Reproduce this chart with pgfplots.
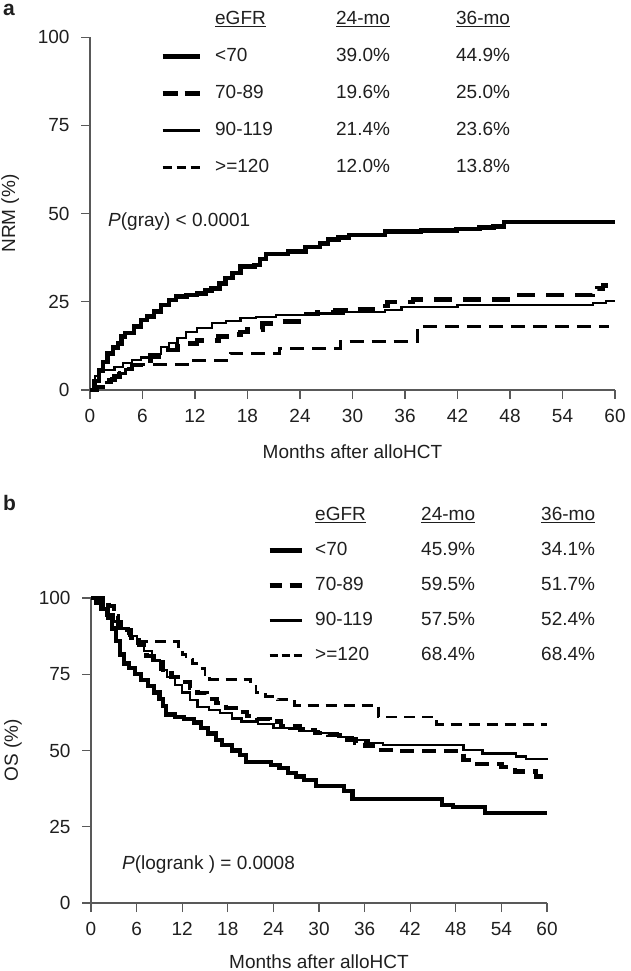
\documentclass[border=0pt]{standalone}
\usepackage{fontspec}
\setmainfont{Liberation Sans}
\usepackage{pgfplots}
\pgfplotsset{compat=1.18}

\definecolor{axisgray}{gray}{0.35}
\definecolor{ink}{gray}{0.12}

\newcommand{\lbl}{\fontsize{19}{22}\selectfont}

\pgfplotsset{
  kmaxis/.style={
    scale only axis,
    anchor=south west,
    xmin=0, xmax=60, ymin=0, ymax=100,
    xtick={0,6,...,60}, ytick={0,25,50,75,100},
    axis x line*=bottom, axis y line*=left,
    axis line style={axisgray, line width=1.3pt},
    tick style={axisgray, line width=1.3pt},
    tick align=outside,
    major tick length=9pt,
    /pgf/number format/assume math mode=true,
    tick label style={font=\lbl, text=ink},
    xticklabel style={yshift=-7pt},
    yticklabel style={xshift=-8pt},
    label style={font=\lbl, text=ink},
    ylabel style={anchor=center},
    xlabel style={anchor=center},
    clip=false,
    legend cell align=left,
  },
  keyimage/.style={legend image code/.code={\draw[##1] (0pt,0pt) -- (#1,0pt);}},
}

\begin{document}
\begin{tikzpicture}[font=\lbl, text=ink]
\useasboundingbox (0pt,0pt) rectangle (631pt,971pt);

% ---------------- panel a: non-relapse mortality ----------------
\begin{axis}[kmaxis,
  at={(90pt,581pt)}, width=525pt, height=352.7pt,
  ylabel={NRM (\%)}, xlabel={Months after alloHCT},
  ylabel style={at={(axis description cs:-0.152,0.5)}},
  xlabel style={at={(axis description cs:0.5,-0.176)}},
  keyimage=37pt,
  legend style={at={(axis description cs:0.1333,1.0774)}, anchor=north west,
    draw=none, fill=none, inner sep=0pt, column sep=13pt, row sep=18.5pt,
    font=\lbl, text=ink,
    nodes={inner sep=0pt, text height=14pt, text depth=4.5pt}},
]
% <70
\addplot[black, line width=4.5pt, const plot, forget plot] table {
0 0
0.5 2.5
1.0 5.5
1.5 8
2.0 10.4
2.6 12
3.2 13.2
3.6 15.2
4.0 16.1
5.0 18
5.8 19.8
6.5 20.8
7.3 22.3
8.1 24.1
9.0 25.5
9.8 26.5
11.0 27
12.2 27.4
13.2 28.2
13.9 28.8
14.8 30.2
15.5 31.7
16.3 33.2
17.2 35
18.8 35.4
19.4 37.2
20.1 38.6
22.6 39.2
24.6 40.6
26.3 41.6
27.2 42.6
28.4 43.3
29.6 44
33.7 44.9
37.8 45.2
41.9 45.6
44.5 46
46.1 46.3
47.3 47.7
60 47.7
};
% 70-89
\addplot[black, line width=4.5pt, dash pattern=on 18pt off 11pt, const plot, forget plot] table {
0 0
0.8 0.8
1.5 1.8
2.2 2.8
2.8 3.8
3.4 4.8
4.0 6
4.8 7.1
5.8 8.3
6.9 9.5
7.9 10.4
8.9 11.3
10.0 12.4
11.0 13.2
12.2 14
14.7 15.1
16.4 15.8
17.2 16.5
18.0 17.2
19.7 18.9
21.5 19.4
24.4 21.5
26.0 22
28.0 22.5
30.5 22.8
32.3 23.8
34.0 25
36.9 25.7
48.6 26.9
57.4 27.8
58.0 28.8
58.6 29.6
59.2 29.6
};
% 90-119
\addplot[black, line width=2.2pt, const plot, forget plot] table {
0 0
0.3 2
0.6 4
1.0 5.7
2.8 6.6
3.8 7.6
4.8 8.5
5.8 9.2
6.8 10.2
8.1 12.3
9.0 13.4
10.0 14.8
11.0 16.5
12.2 17.6
13.9 18.9
15.5 19.6
17.2 20.3
19.0 20.8
21.3 21.3
25.5 21.7
29.0 22.2
33.7 22.7
35.6 23.6
42.0 24.1
55.6 24.1
57.5 24.6
59.0 25.3
60 25.3
};
% >=120
\addplot[black, line width=3pt, dash pattern=on 14pt off 8pt, const plot, forget plot] table {
0 0
0.8 1
1.6 2
2.4 3.2
3.2 4.6
4.0 5.8
4.8 7.1
11.6 8.5
16.0 10.4
21.7 11.8
28.6 13.7
37.4 17.9
59.3 17.9
};

\addlegendimage{empty legend}
\addlegendentry{\makebox[121pt][l]{\underline{eGFR}}\makebox[120pt][l]{\underline{24-mo}}\underline{36-mo}}
\addlegendimage{black, line width=5pt}
\addlegendentry{\makebox[121pt][l]{<70}\makebox[120pt][l]{39.0\%}44.9\%}
\addlegendimage{black, line width=5pt, dash pattern=on 15pt off 7pt}
\addlegendentry{\makebox[121pt][l]{70-89}\makebox[120pt][l]{19.6\%}25.0\%}
\addlegendimage{black, line width=2.2pt}
\addlegendentry{\makebox[121pt][l]{90-119}\makebox[120pt][l]{21.4\%}23.6\%}
\addlegendimage{black, line width=3pt, dash pattern=on 9pt off 5pt}
\addlegendentry{\makebox[121pt][l]{>=120}\makebox[120pt][l]{12.0\%}13.8\%}
\end{axis}

% ---------------- panel b: overall survival ----------------
\begin{axis}[kmaxis,
  at={(91pt,68pt)}, width=456pt, height=305pt,
  ylabel={OS (\%)}, xlabel={Months after alloHCT},
  ylabel style={at={(axis description cs:-0.171,0.5)}},
  xlabel style={at={(axis description cs:0.5,-0.193)}},
  keyimage=32pt,
  legend style={at={(axis description cs:0.386,1.3016)}, anchor=north west,
    draw=none, fill=none, inner sep=0pt, column sep=11pt, row sep=16.5pt,
    font=\lbl, text=ink,
    nodes={inner sep=0pt, text height=14pt, text depth=4.5pt}},
]
% <70
\addplot[black, line width=4.2pt, const plot, forget plot] table {
0 100
0.8 98.5
1.5 96.5
2.2 93.5
2.8 90
3.3 86
3.8 81.5
4.3 78.5
5.0 77
5.8 75
6.6 73
7.5 71.2
8.3 69
9.0 67
9.5 64.5
9.9 61.8
11.0 61
12.2 60.3
13.5 59.2
14.5 57.5
15.4 55.6
16.4 53.5
17.2 51.8
18.6 50
19.6 48.5
20.4 46.2
23.7 45.3
24.8 44.2
25.9 42.6
27.0 41.5
28.0 40.3
29.6 38.4
33.3 36.8
34.4 34.2
46.2 32.0
47.6 31.6
51.8 29.6
60 29.6
};
% 70-89
\addplot[black, line width=4.2pt, dash pattern=on 14pt off 8pt, const plot, forget plot] table {
0 100
1.5 99
2.3 97.5
3.0 94
3.5 91.5
4.3 89.5
5.3 87
6.3 84.5
7.3 81
8.3 79
9.5 76.5
10.6 74.2
11.8 72.5
13.0 70.5
14.0 68.8
15.2 67
16.5 65.5
17.8 64
19.0 62.5
20.5 61.2
21.8 60.3
23.5 59.5
25.0 58.0
27.5 56.8
29.5 55.8
31.2 55.1
33.2 53.6
34.8 52.5
36.0 51.5
37.6 50.1
40.0 49.9
49.0 47.0
50.4 45.6
54.0 44.5
55.8 43.1
58.5 41.5
59.5 41.5
};
% 90-119
\addplot[black, line width=2.2pt, const plot, forget plot] table {
0 100
0.6 98
1.2 96.2
2.0 94
3.0 92.3
4.0 90
5.0 87.5
6.0 85
7.0 82.5
8.0 79.5
9.1 76.5
10.0 74
11.0 71.5
12.0 69
13.0 66.5
14.0 64.2
15.5 63.2
17.0 62.3
18.5 60.5
19.8 59.5
22.0 58.8
24.0 57.5
26.0 57.2
28.0 56.5
30.0 55.7
32.5 54.5
34.5 53.4
36.5 52.4
38.4 51.8
49.0 50.2
51.5 49.0
55.9 48.0
57.2 47.2
60 46.8
};
% >=120
\addplot[black, line width=2.8pt, dash pattern=on 11pt off 7pt, const plot, forget plot] table {
0 100
0.8 98.5
1.5 96.5
2.2 94.5
3.0 92
3.8 90
4.6 88.3
5.4 86.8
6.0 85.7
11.5 83
12.0 81.5
12.5 80
13.4 78.5
14.2 77
15.0 75
15.6 73.3
21.0 71
21.7 69
23.0 67.8
24.5 66.6
26.8 64.8
37.8 61.0
45.5 58.6
60 58.6
};

\addlegendimage{empty legend}
\addlegendentry{\makebox[106pt][l]{\underline{eGFR}}\makebox[120pt][l]{\underline{24-mo}}\underline{36-mo}}
\addlegendimage{black, line width=5pt}
\addlegendentry{\makebox[106pt][l]{<70}\makebox[120pt][l]{45.9\%}34.1\%}
\addlegendimage{black, line width=5pt, dash pattern=on 12pt off 8pt}
\addlegendentry{\makebox[106pt][l]{70-89}\makebox[120pt][l]{59.5\%}51.7\%}
\addlegendimage{black, line width=2.2pt}
\addlegendentry{\makebox[106pt][l]{90-119}\makebox[120pt][l]{57.5\%}52.4\%}
\addlegendimage{black, line width=3pt, dash pattern=on 8pt off 4pt}
\addlegendentry{\makebox[106pt][l]{>=120}\makebox[120pt][l]{68.4\%}68.4\%}
\end{axis}

% panel letters and test statistics
\node[anchor=north west, inner sep=0pt, font=\fontsize{21}{23}\selectfont\bfseries] at (3pt,967pt) {a};
\node[anchor=north west, inner sep=0pt, font=\fontsize{21}{23}\selectfont\bfseries] at (3pt,476pt) {b};
\node[anchor=west, inner sep=0pt] at (108pt,749pt) {\textit{P}(gray) < 0.0001};
\node[anchor=west, inner sep=0pt] at (122pt,106pt) {\textit{P}(logrank ) = 0.0008};
\end{tikzpicture}
\end{document}
